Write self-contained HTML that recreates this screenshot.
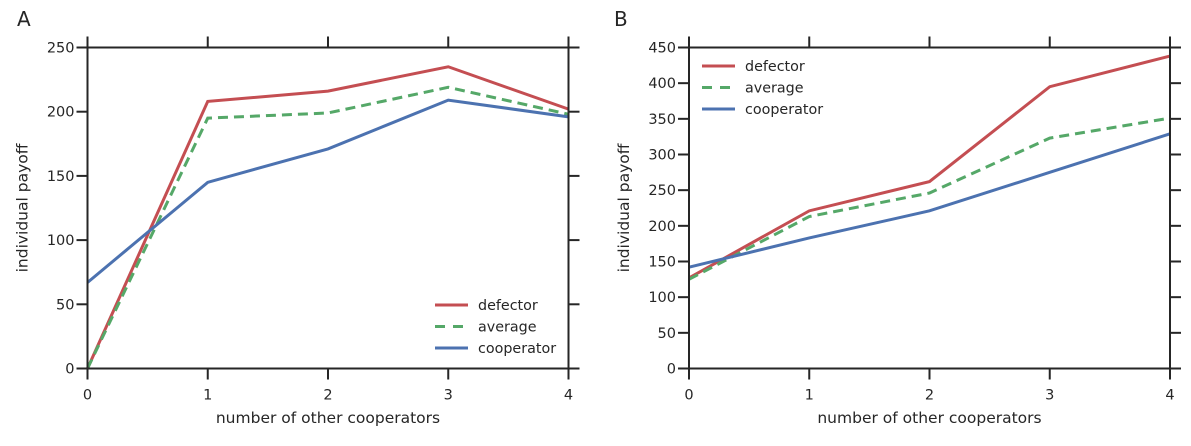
<!DOCTYPE html>
<html><head><meta charset="utf-8"><style>
body{margin:0;background:#fff}
svg text{font-family:"DejaVu Sans","Liberation Sans",sans-serif;fill:#262626}
</style></head><body>
<svg id="s" width="1191" height="441" xmlns="http://www.w3.org/2000/svg"></svg>
<script>
const categories=[0,1,2,3,4];
const aDefector=[0,208,216,235,202];
const aAverage=[0,195,199,219,198];
const aCooperator=[67,145,171,209,196];
const bDefector=[127,221,262,395,438];
const bAverage=[125,213,246,323,351];
const bCooperator=[142,183,221,275,329];
const aTicks=[0,50,100,150,200,250];
const bTicks=[0,50,100,150,200,250,300,350,400,450];
const seriesNames=["defector","average","cooperator"];
const colors=["#c44e52","#55a868","#4c72b0"];
const NS="http://www.w3.org/2000/svg";
const svg=document.getElementById('s');
function el(t,a,p){const e=document.createElementNS(NS,t);for(const k in a)e.setAttribute(k,a[k]);(p||svg).appendChild(e);return e;}
function panel(id,x0,x1,y0,y1,ymax,yt,series,lx,ly,label){
  const g=el('g',{});
  
  
  const X=v=>x0+(v-categories[0])/(categories[categories.length-1]-categories[0])*(x1-x0);
  const Y=v=>y1-v/ymax*(y1-y0);
  series.forEach((s,i)=>{
    const p=el('polyline',{points:s.map((v,j)=>X(categories[j])+','+Y(v)).join(' '),fill:'none',stroke:colors[i],'stroke-width':3,'stroke-dasharray':i==1?'10,6':'none'},g);
    
    
  });
  const fr=el('rect',{x:x0,y:y0,width:x1-x0,height:y1-y0,fill:'none',stroke:'#262626','stroke-width':2},g);
  
  
  yt.forEach(v=>{
    el('line',{x1:x0-11,x2:x0,y1:Y(v),y2:Y(v),stroke:'#262626','stroke-width':2},g);
    el('line',{x1:x1,x2:x1+11,y1:Y(v),y2:Y(v),stroke:'#262626','stroke-width':2},g);
    const t=el('text',{x:x0-13,y:Y(v)+5,'text-anchor':'end','font-size':14.5},g);t.textContent=v;
    
    
  });
  categories.forEach(c=>{
    el('line',{x1:X(c),x2:X(c),y1:y1,y2:y1+11,stroke:'#262626','stroke-width':2},g);
    el('line',{x1:X(c),x2:X(c),y1:y0-11,y2:y0,stroke:'#262626','stroke-width':2},g);
    const t=el('text',{x:X(c),y:y1+31,'text-anchor':'middle','font-size':14.5},g);t.textContent=c;
    
    
  });
  const xt=el('text',{x:(x0+x1)/2,y:423,'text-anchor':'middle','font-size':15.5},g);xt.textContent='number of other cooperators';
  
  
  const cy=(y0+y1)/2, cx=x0-60;
  const yl=el('text',{x:cx,y:cy,'text-anchor':'middle','font-size':15.5,transform:`rotate(-90 ${cx} ${cy})`},g);yl.textContent='individual payoff';
  
  
  const pl=el('text',{x:label[0],y:label[1],'font-size':20},g);pl.textContent=id;
  
  
  seriesNames.forEach((n,i)=>{
    const lg=el('g',{},g);
    
    
    const yy=ly+i*21.5;
    el('line',{x1:lx,x2:lx+33,y1:yy,y2:yy,stroke:colors[i],'stroke-width':3,'stroke-dasharray':i==1?'10,8':'none'},lg);
    const t=el('text',{x:lx+43,y:yy+5,'font-size':14.3},lg);t.textContent=n;
  });
}
panel('A',87.5,568.5,47.5,368.5,250,aTicks,[aDefector,aAverage,aCooperator],435,305,[17,26]);
panel('B',689,1170,47.5,368.5,450,bTicks,[bDefector,bAverage,bCooperator],702,66,[614,26]);
</script>
</body></html>
